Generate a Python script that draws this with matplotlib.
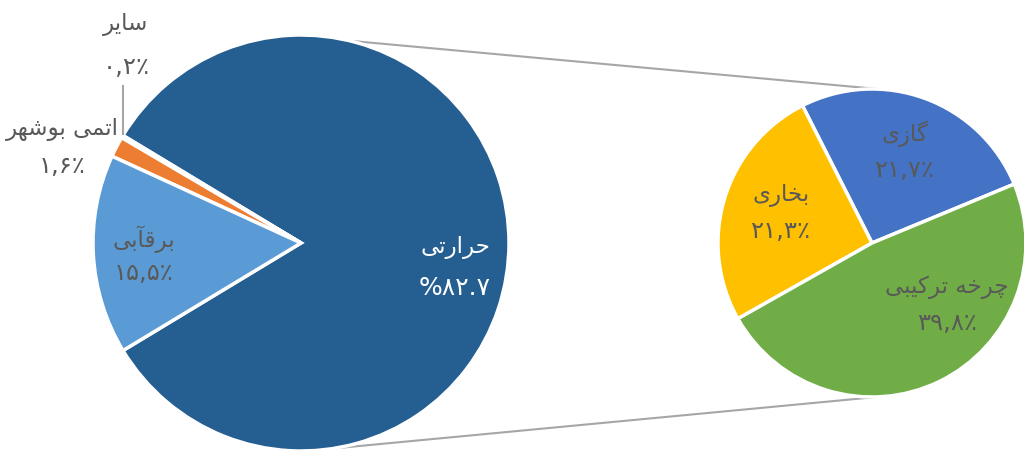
import numpy as np
import matplotlib
matplotlib.use("Agg")
import matplotlib.pyplot as plt

# Persian labels are stored already shaped (presentation forms, visual order),
# since matplotlib does no Arabic shaping / bidi.
main_names = [
    "\uFEF0\uFE97\uFEAD\uFE8D\uFEAE\uFEA3",                    # حرارتی
    "\uFEAE\uFEF3\uFE8E\uFEB3",                                  # سایر
    "\uFEAE\uFEEC\uFEB7\uFEEE\uFE91 \uFEF0\uFEE4\uFE97\uFE8D",   # اتمی بوشهر
    "\uFEF0\uFE91\uFE82\uFED7\uFEAE\uFE91",                      # برقآبی
]
main_vals = [82.7, 0.2, 1.6, 15.5]
main_colors = ["#255E91", "#A5A5A5", "#ED7D31", "#5B9BD5"]

sub_names = [
    "\uFEEF\uFEAF\uFE8E\uFB94",                                  # گازی
    "\uFEEF\uFEAD\uFE8E\uFEA8\uFE91",                            # بخاری
    "\uFEF0\uFE92\uFEF4\uFEDB\uFEAE\uFE97 \uFEEA\uFEA7\uFEAE\uFB7C",  # چرخه ترکیبی
]
sub_vals = [21.7, 21.3, 39.8]
sub_colors = ["#4472C4", "#FFC000", "#70AD47"]

FA = str.maketrans("0123456789", "۰۱۲۳۴۵۶۷۸۹")


def fa_pct(v):
    return f"{v:.1f}".replace(".", ",").translate(FA) + "\u066A"


TXT = "#595959"
plt.rcParams["font.family"] = ["DejaVu Sans"]

fig = plt.figure(figsize=(10.24, 4.53), dpi=100)
ax = fig.add_axes([0, 0, 1, 1])

c1, r1 = np.array([301.0, 210.0]), 208.0
c2, r2 = np.array([872.0, 210.0]), 154.0

start1 = -main_vals[0] * 3.6 / 2
w1, _ = ax.pie(main_vals, colors=main_colors, startangle=start1, center=c1, radius=r1,
               wedgeprops=dict(edgecolor="white", linewidth=2.5))
w2, _ = ax.pie(sub_vals, colors=sub_colors, startangle=22.5, center=c2, radius=r2,
               wedgeprops=dict(edgecolor="white", linewidth=2.5))


def pt(c, r, ang):
    a = np.deg2rad(ang)
    return c[0] + r * np.cos(a), c[1] + r * np.sin(a)


def two_line(x, y, name, pct, gap, color=TXT, fs=16.5, fs2=17.5):
    ax.text(x, y + gap / 2, name, ha="center", va="center", color=color, fontsize=fs)
    ax.text(x, y - gap / 2, pct, ha="center", va="center", color=color, fontsize=fs2)


# labels inside the main pie
x, y = pt(c1, 0.75 * r1, -9.2)
two_line(x, y, main_names[0], "%" + f"{main_vals[0]:.1f}".translate(FA), 40, "white", 16.5, 18)
x, y = pt(c1, 0.76 * r1, 184.7)
two_line(x, y, main_names[3], fa_pct(main_vals[3]), 34)

# outside labels with leader
two_line(126, 453 - 46, main_names[1], fa_pct(main_vals[1]), 42)
ax.plot([123, 123], [453 - 86, 453 - 134], color="#A6A6A6", lw=1.5)
two_line(62, 453 - 148, main_names[2], fa_pct(main_vals[2]), 37)

# labels in secondary pie
for w, name, v, (ang, rf) in zip(w2, sub_names, sub_vals,
                                 [(70, 0.63), (162, 0.62), (-39.6, 0.63)]):
    x, y = pt(c2, rf * r2, ang)
    two_line(x, y, name, fa_pct(v), 36)

# connector lines
for a1, a2 in [(76.5, 87), (-81, -88)]:
    p1, p2 = pt(c1, r1, a1), pt(c2, r2, a2)
    ax.plot([p1[0], p2[0]], [p1[1], p2[1]], color="#A6A6A6", lw=1.5, zorder=0)

ax.set_xlim(0, 1024)
ax.set_ylim(0, 453)
ax.set_aspect("equal")
ax.axis("off")
fig.savefig("out.png", dpi=100)
